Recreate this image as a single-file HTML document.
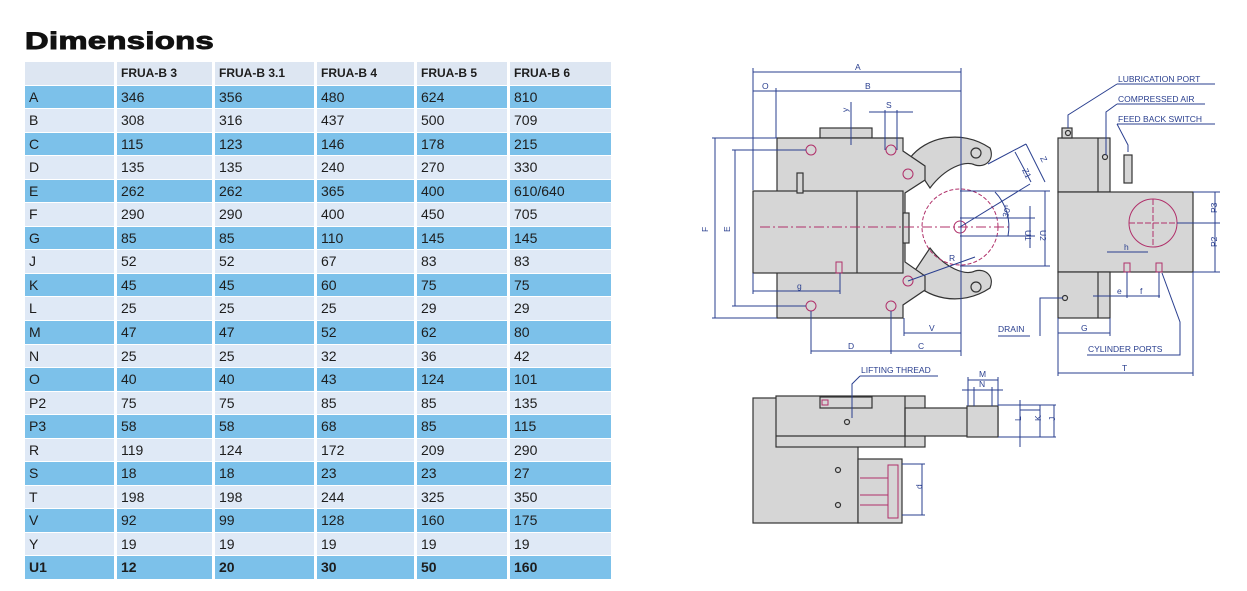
<!DOCTYPE html>
<html><head><meta charset="utf-8"><style>
body{margin:0;width:1247px;height:591px;background:#fff;position:relative;overflow:hidden;font-family:"Liberation Sans",sans-serif}
.title{position:absolute;left:25px;top:28px;font-size:24px;font-weight:900;color:#111;transform:scaleX(1.36);transform-origin:left top;letter-spacing:0.3px;-webkit-text-stroke:1px #111}
table{position:absolute;left:22px;top:61px;border-collapse:separate;border-spacing:3px 1px;font-size:14px;color:#1d1d1d}
td{height:22.55px;padding:0 0 0 4px;line-height:22.55px;white-space:nowrap}
tr.h td{background:#dde6f2;font-size:12px;font-weight:bold}
tr.b td{background:#7cc1ea}
tr.l td{background:#dfe9f6}
tr.u td{font-weight:bold}
td:nth-child(1){width:85px}td:nth-child(2){width:91px}td:nth-child(3){width:95px}td:nth-child(4){width:93px}td:nth-child(5){width:86px}td:nth-child(6){width:97px}
svg{position:absolute;left:0;top:0}
svg text{font-family:"Liberation Sans",sans-serif;font-size:8.5px;fill:#2a3f8f}
</style></head><body>
<div class="title">Dimensions</div>
<table>
<tr class="h"><td></td><td>FRUA-B 3</td><td>FRUA-B 3.1</td><td>FRUA-B 4</td><td>FRUA-B 5</td><td>FRUA-B 6</td></tr>
<tr class="b"><td>A</td><td>346</td><td>356</td><td>480</td><td>624</td><td>810</td></tr>
<tr class="l"><td>B</td><td>308</td><td>316</td><td>437</td><td>500</td><td>709</td></tr>
<tr class="b"><td>C</td><td>115</td><td>123</td><td>146</td><td>178</td><td>215</td></tr>
<tr class="l"><td>D</td><td>135</td><td>135</td><td>240</td><td>270</td><td>330</td></tr>
<tr class="b"><td>E</td><td>262</td><td>262</td><td>365</td><td>400</td><td>610/640</td></tr>
<tr class="l"><td>F</td><td>290</td><td>290</td><td>400</td><td>450</td><td>705</td></tr>
<tr class="b"><td>G</td><td>85</td><td>85</td><td>110</td><td>145</td><td>145</td></tr>
<tr class="l"><td>J</td><td>52</td><td>52</td><td>67</td><td>83</td><td>83</td></tr>
<tr class="b"><td>K</td><td>45</td><td>45</td><td>60</td><td>75</td><td>75</td></tr>
<tr class="l"><td>L</td><td>25</td><td>25</td><td>25</td><td>29</td><td>29</td></tr>
<tr class="b"><td>M</td><td>47</td><td>47</td><td>52</td><td>62</td><td>80</td></tr>
<tr class="l"><td>N</td><td>25</td><td>25</td><td>32</td><td>36</td><td>42</td></tr>
<tr class="b"><td>O</td><td>40</td><td>40</td><td>43</td><td>124</td><td>101</td></tr>
<tr class="l"><td>P2</td><td>75</td><td>75</td><td>85</td><td>85</td><td>135</td></tr>
<tr class="b"><td>P3</td><td>58</td><td>58</td><td>68</td><td>85</td><td>115</td></tr>
<tr class="l"><td>R</td><td>119</td><td>124</td><td>172</td><td>209</td><td>290</td></tr>
<tr class="b"><td>S</td><td>18</td><td>18</td><td>23</td><td>23</td><td>27</td></tr>
<tr class="l"><td>T</td><td>198</td><td>198</td><td>244</td><td>325</td><td>350</td></tr>
<tr class="b"><td>V</td><td>92</td><td>99</td><td>128</td><td>160</td><td>175</td></tr>
<tr class="l"><td>Y</td><td>19</td><td>19</td><td>19</td><td>19</td><td>19</td></tr>
<tr class="b u"><td>U1</td><td>12</td><td>20</td><td>30</td><td>50</td><td>160</td></tr>
</table>
<svg width="1247" height="591" viewBox="0 0 1247 591">
<g stroke="#333" stroke-width="1.2" fill="#d6d6d6">
<rect x="820" y="128" width="52" height="10"/>
<path d="M910,158 C925,138 960,128 990,148 C995,160 985,168 975,165 C965,160 945,168 930,188 Z"/>
<path d="M910,278 C925,298 960,308 990,288 C995,276 985,268 975,271 C965,276 945,268 930,248 Z"/>
<polygon points="777,138 903,138 903,151 925,166 925,180 905,193 905,262 925,276 925,290 903,305 903,318 777,318"/>
<rect x="753" y="191" width="150" height="82"/>
<line x1="857" y1="191" x2="857" y2="273"/>
<rect x="903" y="213" width="6" height="30"/>
<rect x="797" y="173" width="6" height="20"/>
<rect x="1058" y="138" width="52" height="54"/>
<rect x="1058" y="192" width="135" height="80"/>
<rect x="1058" y="272" width="52" height="46"/>
<rect x="1062" y="128" width="10" height="10"/>
<rect x="1124" y="155" width="8" height="28"/>
<rect x="753" y="398" width="105" height="125"/>
<rect x="776" y="396" width="149" height="51"/>
<rect x="905" y="408" width="93" height="28"/>
<rect x="967" y="406" width="31" height="31"/>
<rect x="858" y="459" width="44" height="64"/>
<line x1="776" y1="436" x2="905" y2="436"/><line x1="905" y1="396" x2="905" y2="447"/>
<rect x="820" y="397" width="52" height="11"/>
</g>
<g stroke="#333" stroke-width="1.2" fill="none">
<line x1="1098" y1="138" x2="1098" y2="192"/><line x1="1098" y1="272" x2="1098" y2="318"/>
<circle cx="976" cy="153" r="5"/><circle cx="976" cy="287" r="5"/>
<circle cx="1068" cy="133" r="2.5"/><circle cx="1105" cy="157" r="2.5"/><circle cx="1065" cy="298" r="2.5"/>
<circle cx="847" cy="422" r="2.5"/><circle cx="838" cy="470" r="2.5"/><circle cx="838" cy="505" r="2.5"/>
</g>
<g stroke="#b0306a" stroke-width="1" fill="none">
<circle cx="811" cy="150" r="5"/><circle cx="891" cy="150" r="5"/><circle cx="908" cy="174" r="5"/>
<circle cx="908" cy="281" r="5"/><circle cx="811" cy="306" r="5"/><circle cx="891" cy="306" r="5"/>
<circle cx="960" cy="227" r="38" stroke-dasharray="4,2"/><circle cx="960" cy="227" r="6"/>
<line x1="760" y1="227" x2="1010" y2="227" stroke-dasharray="10,3,2,3"/>
<circle cx="1153" cy="223" r="24"/><line x1="1129" y1="223" x2="1177" y2="223" stroke-dasharray="6,2"/><line x1="1153" y1="199" x2="1153" y2="247" stroke-dasharray="6,2"/>
<rect x="836" y="262" width="6" height="11"/><rect x="1124" y="263" width="6" height="9"/><rect x="1156" y="263" width="6" height="9"/>
<rect x="822" y="400" width="6" height="5"/>
<rect x="888" y="465" width="10" height="53"/><line x1="860" y1="478" x2="888" y2="478"/><line x1="860" y1="495" x2="888" y2="495"/><line x1="860" y1="505" x2="888" y2="505"/>
</g>
<g stroke="#2a3f8f" stroke-width="1" fill="none">
<line x1="753" y1="72" x2="961" y2="72"/><line x1="753" y1="91" x2="961" y2="91"/>
<line x1="753" y1="68" x2="753" y2="190"/><line x1="776" y1="88" x2="776" y2="138"/><line x1="961" y1="68" x2="961" y2="356"/>
<line x1="715" y1="138" x2="715" y2="318"/><line x1="712" y1="138" x2="777" y2="138"/><line x1="712" y1="318" x2="777" y2="318"/>
<line x1="735" y1="150" x2="735" y2="306"/><line x1="732" y1="150" x2="806" y2="150"/><line x1="732" y1="306" x2="806" y2="306"/>
<line x1="753" y1="291" x2="840" y2="291"/><line x1="840" y1="273" x2="840" y2="294"/><line x1="753" y1="273" x2="753" y2="294"/>
<line x1="811" y1="351" x2="961" y2="351"/><line x1="811" y1="311" x2="811" y2="354"/><line x1="891" y1="311" x2="891" y2="354"/>
<line x1="904" y1="333" x2="961" y2="333"/><line x1="904" y1="318" x2="904" y2="336"/>
<line x1="851" y1="102" x2="851" y2="145"/><line x1="869" y1="112" x2="913" y2="112"/><line x1="885" y1="110" x2="885" y2="150"/><line x1="897" y1="110" x2="897" y2="150"/>
<line x1="960" y1="227" x2="1030" y2="184"/><line x1="988" y1="164" x2="1026" y2="144"/><line x1="1026" y1="144" x2="1045" y2="182"/><line x1="1015" y1="152" x2="1031" y2="182"/>
<line x1="960" y1="191" x2="1050" y2="191"/><line x1="960" y1="266" x2="1050" y2="266"/><line x1="1045" y1="191" x2="1045" y2="266"/>
<line x1="960" y1="218" x2="1035" y2="218"/><line x1="960" y1="236" x2="1035" y2="236"/><line x1="1030" y1="206" x2="1030" y2="248"/>
<path d="M995,192 A50,50 0 0,1 1008,236"/>
<line x1="908" y1="281" x2="975" y2="257"/>
<line x1="1193" y1="192" x2="1220" y2="192"/><line x1="1193" y1="272" x2="1220" y2="272"/><line x1="1177" y1="223" x2="1220" y2="223"/><line x1="1215" y1="192" x2="1215" y2="272"/>
<line x1="1058" y1="333" x2="1110" y2="333"/><line x1="1110" y1="318" x2="1110" y2="336"/>
<line x1="1058" y1="373" x2="1193" y2="373"/><line x1="1058" y1="318" x2="1058" y2="376"/><line x1="1193" y1="272" x2="1193" y2="376"/>
<line x1="1093" y1="296" x2="1160" y2="296"/><line x1="1127" y1="272" x2="1127" y2="298"/><line x1="1159" y1="272" x2="1159" y2="298"/>
<line x1="1107" y1="252" x2="1148" y2="252"/>
<path d="M1087,355 H1180 V322 L1162,273"/>
<path d="M1117,84 H1215 M1117,84 L1068,115 V128"/>
<path d="M1117,104 H1205 M1117,104 L1106,112 V155"/>
<path d="M1117,124 H1215 M1117,124 L1128,145 V152"/>
<path d="M998,336 H1030 M1040,336 V298 H1063"/>
<path d="M860,376 H938 M860,376 L852,384 V418"/>
<line x1="968" y1="380" x2="998" y2="380"/><line x1="962" y1="390" x2="1003" y2="390"/><line x1="968" y1="377" x2="968" y2="406"/><line x1="998" y1="377" x2="998" y2="406"/><line x1="974" y1="387" x2="974" y2="406"/><line x1="992" y1="387" x2="992" y2="406"/>
<line x1="998" y1="405" x2="1056" y2="405"/><line x1="998" y1="437" x2="1056" y2="437"/><line x1="1020" y1="410" x2="1040" y2="410"/>
<line x1="1020" y1="400" x2="1020" y2="447"/><line x1="1040" y1="405" x2="1040" y2="437"/><line x1="1054" y1="405" x2="1054" y2="437"/>
<line x1="902" y1="464" x2="925" y2="464"/><line x1="902" y1="515" x2="925" y2="515"/><line x1="922" y1="464" x2="922" y2="515"/>
</g>
<g>
<text x="855" y="70">A</text><text x="865" y="89">B</text><text x="762" y="89">O</text>
<text x="797" y="289">g</text><text x="848" y="349">D</text><text x="918" y="349">C</text><text x="929" y="331">V</text>
<text x="886" y="108">S</text><text x="848" y="112" transform="rotate(-90 848 112)">y</text>
<text x="708" y="232" transform="rotate(-90 708 232)">F</text><text x="730" y="232" transform="rotate(-90 730 232)">E</text>
<text x="949" y="261">R</text><text x="1008" y="218" transform="rotate(-75 1008 218)">30°</text>
<text x="1033" y="238" transform="rotate(90 1033 230)">U1</text><text x="1048" y="238" transform="rotate(90 1048 230)">U2</text>
<text x="1022" y="170" transform="rotate(65 1022 170)">Z1</text><text x="1040" y="158" transform="rotate(65 1040 158)">Z</text>
<text x="1118" y="82">LUBRICATION PORT</text><text x="1118" y="102">COMPRESSED AIR</text><text x="1118" y="122">FEED BACK SWITCH</text>
<text x="1212" y="218" transform="rotate(-90 1212 213)">P3</text><text x="1212" y="252" transform="rotate(-90 1212 247)">P2</text>
<text x="1124" y="250">h</text><text x="1117" y="294">e</text><text x="1140" y="294">f</text>
<text x="1081" y="331">G</text><text x="1122" y="371">T</text>
<text x="998" y="332">DRAIN</text><text x="1088" y="352">CYLINDER PORTS</text>
<text x="861" y="373">LIFTING THREAD</text>
<text x="979" y="377">M</text><text x="979" y="387">N</text>
<text x="1018" y="424" transform="rotate(-90 1018 421)">L</text><text x="1038" y="424" transform="rotate(-90 1038 421)">K</text><text x="1052" y="424" transform="rotate(-90 1052 421)">J</text>
<text x="919" y="492" transform="rotate(-90 919 489)">d</text>
</g>
</svg>
</body></html>
